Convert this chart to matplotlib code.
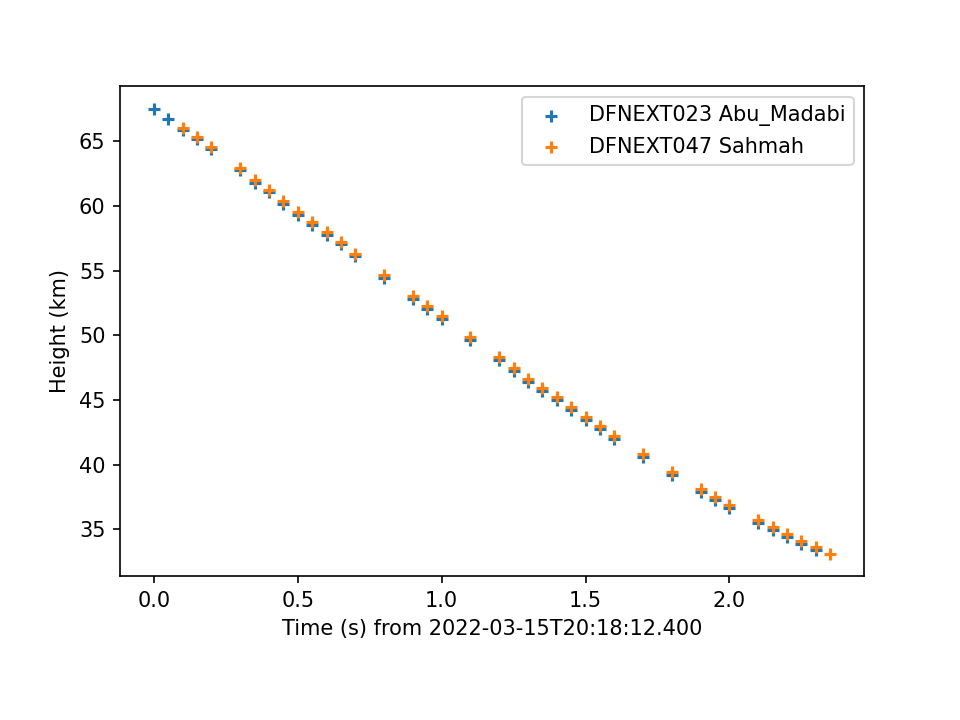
import matplotlib
matplotlib.use("Agg")
import matplotlib.pyplot as plt
import numpy as np

# Time (s) for each station
t_abu = [0.0, 0.05, 0.1, 0.15, 0.2, 0.3, 0.35, 0.4, 0.45, 0.5, 0.55, 0.6, 0.65, 0.7,
         0.8, 0.9, 0.95, 1.0, 1.1, 1.2, 1.25, 1.3, 1.35, 1.4, 1.45, 1.5, 1.55, 1.6,
         1.7, 1.8, 1.9, 1.95, 2.0, 2.1, 2.15, 2.2, 2.25, 2.3]
h_abu = [67.53, 66.75, 65.86, 65.16, 64.38, 62.78, 61.81, 61.05, 60.18, 59.33, 58.56,
         57.78, 57.03, 56.10, 54.44, 52.82, 52.04, 51.27, 49.65, 48.10, 47.27, 46.39,
         45.72, 45.02, 44.25, 43.44, 42.74, 41.95, 40.58, 39.19, 37.90, 37.28, 36.62,
         35.49, 34.92, 34.38, 33.87, 33.37]

t_sah = [0.1, 0.15, 0.2, 0.3, 0.35, 0.4, 0.45, 0.5, 0.55, 0.6, 0.65, 0.7,
         0.8, 0.9, 0.95, 1.0, 1.1, 1.2, 1.25, 1.3, 1.35, 1.4, 1.45, 1.5, 1.55, 1.6,
         1.7, 1.8, 1.9, 1.95, 2.0, 2.1, 2.15, 2.2, 2.25, 2.3, 2.35]
h_sah = [66.03, 65.33, 64.56, 62.97, 62.00, 61.24, 60.38, 59.53, 58.76, 57.99, 57.24,
         56.31, 54.66, 53.04, 52.26, 51.49, 49.87, 48.32, 47.50, 46.62, 45.95, 45.26,
         44.49, 43.68, 42.98, 42.19, 40.82, 39.43, 38.14, 37.52, 36.87, 35.74, 35.17,
         34.63, 34.12, 33.62, 33.11]

labels = ["DFNEXT023 Abu_Madabi", "DFNEXT047 Sahmah"]

fig, ax = plt.subplots(figsize=(6.4, 4.8), dpi=150)
fig.subplots_adjust(left=0.125, right=0.9, top=0.88, bottom=0.2)
ax.scatter(t_abu, h_abu, marker='+', label=labels[0])
ax.scatter(t_sah, h_sah, marker='+', label=labels[1])
ax.set_xlabel("Time (s) from 2022-03-15T20:18:12.400")
ax.set_ylabel("Height (km)")
ax.legend(loc='upper right')
fig.savefig("out.png", dpi=150)
